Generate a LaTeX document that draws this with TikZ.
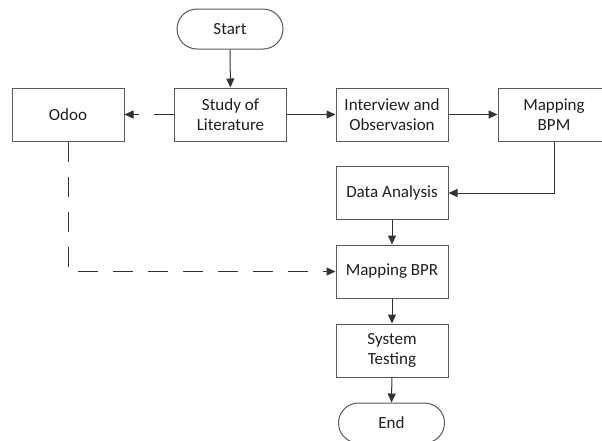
\documentclass[tikz,border=0pt]{standalone}
\usepackage{fontspec}
\setmainfont{Carlito}
\usetikzlibrary{arrows.meta}
\begin{document}
\begin{tikzpicture}[x=1pt,y=-1pt,
  every node/.style={font=\fontsize{17}{20}\selectfont, text=black!88},
  procbox/.style={draw=black!65, line width=1pt, minimum width=112pt, minimum height=53pt, inner sep=0pt, align=center},
  termbox/.style={draw=black!65, line width=1pt, minimum width=106pt, minimum height=40pt, inner sep=0pt, rounded corners=20pt, align=center},
  conn/.style={draw=black!80, line width=1pt, -{Triangle[length=9pt,width=8pt]}},
  dashconn/.style={conn, dash pattern=on 20pt off 15pt}
]
\useasboundingbox (0,0) rectangle (602,440);
\fill[white] (0,0) rectangle (602,440);

\node[termbox] (start) at (230,29) {Start};
\node[procbox] (study) at (230.5,114.5) {Study of\\Literature};
\node[procbox] (odoo) at (68,114.5) {Odoo};
\node[procbox] (interview) at (392,114.5) {Interview and\\Observasion};
\node[procbox] (bpm) at (554,114.5) {Mapping\\BPM};
\node[procbox] (data) at (392,193) {Data Analysis};
\node[procbox] (bpr) at (392,271.5) {Mapping BPR};
\node[procbox] (sys) at (392,350.5) {System\\Testing};
\node[termbox] (end) at (391.5,423) {End};

\draw[conn] (start) -- (study);
\draw[conn] (study) -- (interview);
\draw[conn] (interview) -- (bpm);
\draw[conn] (bpm.south) |- (data.east);
\draw[conn] (data) -- (bpr);
\draw[conn] (bpr) -- (sys);
\draw[conn] (sys) -- (end);
\draw[dashconn] (study.west) -- (odoo.east);
\draw[dashconn] (odoo.south) |- (bpr.west);
\end{tikzpicture}
\end{document}
